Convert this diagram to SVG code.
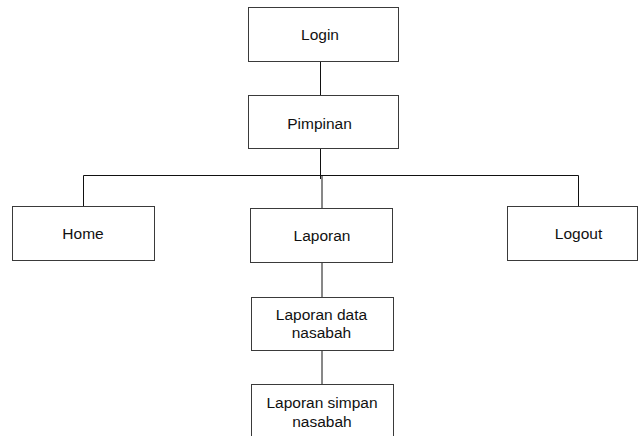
<svg xmlns="http://www.w3.org/2000/svg" width="638" height="436" viewBox="0 0 638 436">
  <style>
    .box { fill: #ffffff; stroke: #3a3a3a; stroke-width: 1; }
    .lbl { font-family: "Liberation Sans", Arial, sans-serif; font-size: 15.5px; fill: #111111; text-anchor: middle; }
    .wire { stroke: #111111; stroke-width: 1; fill: none; }
  </style>
  <rect width="638" height="436" fill="#ffffff"/>

  <g id="connectors">
    <line class="wire" x1="320.5" y1="61" x2="320.5" y2="95"/>
    <line class="wire" x1="320.5" y1="148" x2="320.5" y2="179"/>
    <line class="wire" x1="83.5" y1="175.5" x2="578.5" y2="175.5"/>
    <line class="wire" x1="83.5" y1="175.5" x2="83.5" y2="206"/>
    <line class="wire" x1="578.5" y1="175.5" x2="578.5" y2="206"/>
    <line class="wire" x1="322" y1="175.5" x2="322" y2="208"/>
    <line class="wire" x1="322" y1="262" x2="322" y2="297"/>
    <line class="wire" x1="322" y1="350" x2="322" y2="384"/>
  </g>

  <g id="login">
    <rect class="box" x="248.5" y="7.5" width="150" height="54"/>
    <text class="lbl" x="320" y="39.5">Login</text>
  </g>

  <g id="pimpinan">
    <rect class="box" x="248.5" y="95.5" width="150" height="53"/>
    <text class="lbl" x="319.5" y="128.5">Pimpinan</text>
  </g>

  <g id="home">
    <rect class="box" x="12.5" y="206.5" width="142" height="54"/>
    <text class="lbl" x="83" y="238.5">Home</text>
  </g>

  <g id="laporan">
    <rect class="box" x="250.5" y="208.5" width="142" height="54"/>
    <text class="lbl" x="322" y="240.5">Laporan</text>
  </g>

  <g id="logout">
    <rect class="box" x="507.5" y="206.5" width="130" height="54"/>
    <text class="lbl" x="578.5" y="238.5">Logout</text>
  </g>

  <g id="laporan-data-nasabah">
    <rect class="box" x="251.5" y="297.5" width="142" height="53"/>
    <text class="lbl" x="321.5" y="320">Laporan data</text>
    <text class="lbl" x="321.5" y="338">nasabah</text>
  </g>

  <g id="laporan-simpan-nasabah">
    <rect class="box" x="251.5" y="384.5" width="142" height="60"/>
    <text class="lbl" x="322" y="408">Laporan simpan</text>
    <text class="lbl" x="322" y="427">nasabah</text>
  </g>
</svg>
